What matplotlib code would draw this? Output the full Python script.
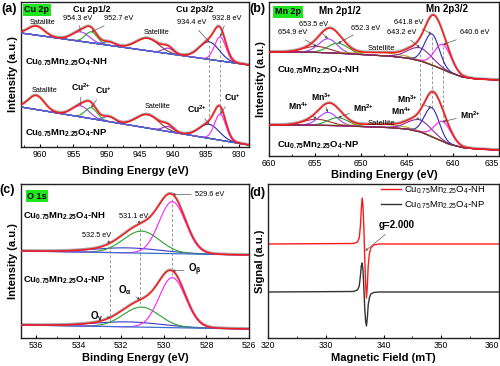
import numpy as np
import matplotlib
matplotlib.use('Agg')
import matplotlib.pyplot as plt

plt.rcParams['font.family'] = ['Liberation Sans', 'DejaVu Sans']
plt.rcParams['mathtext.default'] = 'regular'

W, H = 500, 366

# ---------------- (a) Cu 2p data ----------------
cu_xlim = (962.9, 928.5)
cu_ticks = [960, 955, 950, 945, 940, 935, 930]
cu_bg_nh = [114, 82]          # linear background at the two x-limits
cu_bg_np = [40, 2]
cu_centers = [960.6, 953.9, 952.3, 949.6, 943.8, 940.7, 934.5, 932.85]
cu_sigmas = [1.2, 1.3, 0.9, 0.9, 1.7, 0.8, 1.5, 0.85]
cu_heights_nh = [9, 9.5, 11, 3.5, 12.5, 5.5, 17.5, 24]
cu_heights_np = [14, 11, 11, 5, 13.5, 5, 14, 26]

# ---------------- (b) Mn 2p data ----------------
mn_xlim = (660, 635)
mn_ticks = [660, 655, 650, 645, 640, 635]
mn_bg_x = [660, 656, 653, 650, 647, 645, 643.5, 642, 640.5, 639, 637.5, 635]
mn_bg_nh = [104, 104, 103, 101.5, 100, 98, 95, 90, 84, 79, 77, 76]
mn_bg_np = [31, 31, 30.5, 29.5, 28.5, 27, 24, 18, 12, 8.5, 7, 6]
mn_centers = [654.8, 653.6, 652.5, 647.5, 643.6, 642.3, 641.1]
mn_sigmas = [1.4, 1.0, 1.1, 2.5, 1.3, 0.8, 0.9]
mn_heights_nh = [6, 14, 10, 3, 13, 31, 25]
mn_heights_np = [6, 13, 8, 3, 12, 29, 20]

# ---------------- (c) O 1s data ----------------
o_xlim = (536.7, 526)
o_ticks = [536, 534, 532, 530, 528, 526]
o_bg_nh = [87, 83]
o_bg_np = [13, 9]
o_centers = [531.7, 531.05, 529.6]
o_sigmas = [1.6, 0.85, 0.62]
o_heights_nh = [5, 22, 52]
o_heights_np = [5, 20, 50]
o_marks = [532.5, 531.1, 529.6]

# ---------------- (d) EPR data ----------------
epr_ticks = [320, 330, 340, 350, 360]
epr_field = [320, 334.8, 335.5, 335.8, 336.0, 336.15, 336.3, 336.45, 336.6, 336.75,
             336.9, 337.05, 337.2, 337.35, 337.55, 337.8, 338.3, 339.2, 360]
epr_nh = [94, 94.5, 96, 100, 112, 128, 140, 132, 110, 80, 55, 40, 52, 72, 84, 90, 93, 94, 94]
epr_np = [46, 46.5, 48, 52, 62, 72, 75, 68, 50, 30, 17, 12, 20, 33, 40, 44, 45.5, 46, 46]

NH = r'Cu$_{0.75}$Mn$_{2.25}$O$_{4}$-NH'
NP = r'Cu$_{0.75}$Mn$_{2.25}$O$_{4}$-NP'

RED = '#ff1a1a'
GREY = '#a8a8a8'
BLUE_BG = '#3b6fd0'


def P(px, py):
    return (px / W, 1 - py / H)


fig = plt.figure(figsize=(5, 3.66), dpi=100)


def add_ax(l, t, r, b):
    return fig.add_axes([l / W, 1 - b / H, (r - l) / W, (b - t) / H])


def style(ax, xlim, ylim, ticks, minor, xlabel, ylabel, last_right=False, xpad=1.5):
    ax.set_xlim(*xlim)
    ax.set_ylim(*ylim)
    ax.set_xticks(ticks)
    ax.set_xticks(minor, minor=True)
    ax.set_yticks([])
    ax.tick_params(axis='x', which='major', direction='in', length=2.5, width=0.8,
                   labelsize=6.2, pad=2)
    ax.tick_params(axis='x', which='minor', direction='in', length=1.5, width=0.6)
    for s in ax.spines.values():
        s.set_linewidth(1.0)
        s.set_color('#222222')
    ax.set_xlabel(xlabel, fontsize=8, fontweight='bold', labelpad=xpad)
    ax.set_ylabel(ylabel, fontsize=8, fontweight='bold', labelpad=2)
    if last_right:
        ax.get_xticklabels()[-1].set_horizontalalignment('right')


def gauss(x, c, h, s):
    return h * np.exp(-(x - c) ** 2 / (2 * s ** 2))


def arrow(ax, text, xy, pos, fs=5.3, bold=False):
    ax.annotate(text, xy=xy, xytext=P(*pos), textcoords='figure fraction',
                ha='center', va='center', fontsize=fs,
                fontweight='bold' if bold else 'normal',
                arrowprops=dict(arrowstyle='-|>', color='#555555', lw=0.5,
                                mutation_scale=3.5, shrinkA=1, shrinkB=0))


def ftext(text, pos, fs=5.3, bold=False, ha='center', **kw):
    fig.text(*P(*pos), text, ha=ha, va='center', fontsize=fs,
             fontweight='bold' if bold else 'normal', **kw)


def green_box(text, pos):
    fig.text(*P(*pos), text, ha='center', va='center', fontsize=6.5, fontweight='bold',
             bbox=dict(boxstyle='square,pad=0.18', fc='#1ee61e', ec='none'))


# =============== (a) ===============
axa = add_ax(21, 2, 249, 147)
xa = np.linspace(cu_xlim[0], cu_xlim[1], 800)
cu_colors = ['#c49a1c', '#a040ff', '#2ca02c', '#5a7ab8', '#7a3a3a', '#a030c0', '#2a2aa0', '#ff20ff']
peaks_a = {}
for tag, bgv, hs in [('nh', cu_bg_nh, cu_heights_nh), ('np', cu_bg_np, cu_heights_np)]:
    bg = np.interp(xa, [cu_xlim[1], cu_xlim[0]], [bgv[1], bgv[0]])
    comps = [gauss(xa, c, h, s) for c, h, s in zip(cu_centers, hs, cu_sigmas)]
    env = bg + np.sum(comps, axis=0)
    axa.plot(xa, env + 0.8, color=GREY, lw=1.5, zorder=1)
    for comp, col in zip(comps, cu_colors):
        axa.plot(xa, bg + comp, color=col, lw=0.8, zorder=2)
    axa.plot(xa, bg, color=BLUE_BG, lw=0.9, zorder=3)
    axa.plot(xa, env, color=RED, lw=1.1, zorder=4)
    peaks_a[tag] = [(c, np.interp(c, [cu_xlim[1], cu_xlim[0]], [bgv[1], bgv[0]]) + h)
                    for c, h in zip(cu_centers, hs)]
for i in (6, 7):
    axa.plot([cu_centers[i]] * 2, [peaks_a['np'][i][1] + 3, peaks_a['nh'][i][1] - 3],
             ls=(0, (3, 2)), color='#999999', lw=0.7, zorder=0)
style(axa, cu_xlim, (0, 145), cu_ticks, np.arange(962.5, 928, -2.5),
      'Binding Energy (eV)', 'Intensity (a.u.)', xpad=5)

arrow(axa, '954.3 eV', peaks_a['nh'][1], (78, 18))
arrow(axa, '952.7 eV', peaks_a['nh'][2], (119, 19))
arrow(axa, '934.4 eV', peaks_a['nh'][6], (192, 23))
arrow(axa, '932.8 eV', peaks_a['nh'][7], (227, 18))
arrow(axa, r'Cu$^{2{+}}$', peaks_a['np'][1], (81, 87), fs=6.2, bold=True)
arrow(axa, r'Cu$^{{+}}$', peaks_a['np'][2], (103, 90), fs=6.2, bold=True)
arrow(axa, r'Cu$^{2{+}}$', peaks_a['np'][6], (197, 109), fs=6.2, bold=True)
arrow(axa, r'Cu$^{{+}}$', peaks_a['np'][7], (232, 97), fs=6.2, bold=True)
ftext('Satallite', (43, 23))
ftext('Satellite', (157, 33))
ftext('Satallite', (45, 90))
ftext('Satellite', (158, 107))
ftext('Cu 2p1/2', (92, 9), fs=6.5, bold=True)
ftext('Cu 2p3/2', (195, 9), fs=6.5, bold=True)
ftext(NH, (25, 62), fs=6.8, bold=True, ha='left')
ftext(NP, (25, 133), fs=6.8, bold=True, ha='left')
green_box('Cu 2p', (37, 10))
ftext('(a)', (9, 9), fs=9, bold=True)

# =============== (b) ===============
axb = add_ax(269, 2, 499, 156)
xb = np.linspace(mn_xlim[0], mn_xlim[1], 800)
mn_colors = ['#a83232', '#a040ff', '#2ca02c', '#b0a820', '#8a2aa0', '#2a2ab8', '#ff20ff']
peaks_b = {}
for tag, bgv, hs in [('nh', mn_bg_nh, mn_heights_nh), ('np', mn_bg_np, mn_heights_np)]:
    bg = np.interp(xb, mn_bg_x[::-1], bgv[::-1])
    comps = [gauss(xb, c, h, s) for c, h, s in zip(mn_centers, hs, mn_sigmas)]
    env = bg + np.sum(comps, axis=0)
    axb.plot(xb, env + 0.8, color=GREY, lw=1.5, zorder=1)
    for comp, col in zip(comps, mn_colors):
        axb.plot(xb, bg + comp, color=col, lw=0.8, zorder=2)
    axb.plot(xb, bg, color='#7a3030', lw=0.9, zorder=3)
    axb.plot(xb, env, color=RED, lw=1.1, zorder=4)
    peaks_b[tag] = [(c, np.interp(c, mn_bg_x[::-1], bgv[::-1]) + h)
                    for c, h in zip(mn_centers, hs)]
for i in (4, 5, 6):
    axb.plot([mn_centers[i]] * 2, [peaks_b['np'][i][1], peaks_b['nh'][i][1] - 2],
             ls=(0, (3, 2)), color='#999999', lw=0.7, zorder=0)
style(axb, mn_xlim, (0, 154), mn_ticks, np.arange(657.5, 635, -2.5),
      'Binding Energy (eV)', 'Intensity (a.u.)', last_right=True)

arrow(axb, '653.5 eV', peaks_b['nh'][1], (314, 25))
arrow(axb, '654.9 eV', peaks_b['nh'][0], (293, 33))
arrow(axb, '652.3 eV', peaks_b['nh'][2], (366, 28))
arrow(axb, '641.8 eV', peaks_b['nh'][5], (409, 22))
arrow(axb, '643.2 eV', peaks_b['nh'][4], (402, 33))
arrow(axb, '640.6 eV', peaks_b['nh'][6], (475, 33))
arrow(axb, r'Mn$^{4{+}}$', peaks_b['np'][0], (299, 106), fs=6.2, bold=True)
arrow(axb, r'Mn$^{3{+}}$', peaks_b['np'][1], (322, 97), fs=6.2, bold=True)
arrow(axb, r'Mn$^{2{+}}$', peaks_b['np'][2], (364, 108), fs=6.2, bold=True)
arrow(axb, r'Mn$^{3{+}}$', peaks_b['np'][5], (408, 99), fs=6.2, bold=True)
arrow(axb, r'Mn$^{4{+}}$', peaks_b['np'][4], (402, 111), fs=6.2, bold=True)
arrow(axb, r'Mn$^{2{+}}$', peaks_b['np'][6], (471, 115), fs=6.2, bold=True)
ftext('Satellite', (381, 49), fs=5.5)
ftext('Satellite', (381, 123), fs=5.5)
ftext('Mn 2p1/2', (340, 11), fs=7, bold=True)
ftext('Mn 2p3/2', (447, 9), fs=7, bold=True)
ftext(NH, (277, 70), fs=6.8, bold=True, ha='left')
ftext(NP, (277, 145), fs=6.8, bold=True, ha='left')
green_box('Mn 2p', (288, 12))
ftext('(b)', (257, 9), fs=9, bold=True)

# =============== (c) ===============
axc = add_ax(21, 184, 249, 338)
xc = np.linspace(o_xlim[0], o_xlim[1], 800)
o_colors = ['#3a3ac8', '#2ca02c', '#ff20ff']
env_c = {}
for tag, bgv, hs in [('nh', o_bg_nh, o_heights_nh), ('np', o_bg_np, o_heights_np)]:
    bg = np.interp(xc, [o_xlim[1], o_xlim[0]], [bgv[1], bgv[0]])
    comps = [gauss(xc, c, h, s) for c, h, s in zip(o_centers, hs, o_sigmas)]
    env = bg + np.sum(comps, axis=0)
    axc.plot(xc, env + 0.8, color=GREY, lw=1.5, zorder=1)
    for comp, col in zip(comps, o_colors):
        axc.plot(xc, bg + comp, color=col, lw=0.8, zorder=2)
    axc.plot(xc, bg, color=BLUE_BG, lw=0.9, zorder=3)
    axc.plot(xc, env, color=RED, lw=1.1, zorder=4)
    env_c[tag] = [(m, np.interp(m, xc[::-1], env[::-1])) for m in o_marks]
for i in range(3):
    axc.plot([o_marks[i]] * 2, [env_c['np'][i][1] - 4, env_c['nh'][i][1] - 4],
             ls=(0, (3, 2)), color='#999999', lw=0.7, zorder=0)
style(axc, o_xlim, (0, 154), o_ticks, np.arange(535, 526, -2),
      'Binding Energy (eV)', 'Intensity (a.u.)', xpad=2.5)

arrow(axc, '532.5 eV', env_c['nh'][0], (97, 235))
arrow(axc, '531.1 eV', env_c['nh'][1], (134, 216))
arrow(axc, '529.6 eV', env_c['nh'][2], (210, 195))
arrow(axc, r'O$_{\gamma}$', env_c['np'][0], (97, 318), fs=7, bold=True)
arrow(axc, r'O$_{\alpha}$', env_c['np'][1], (125, 290), fs=7, bold=True)
arrow(axc, r'O$_{\beta}$', env_c['np'][2], (195, 270), fs=7, bold=True)
ftext(NH, (23, 216), fs=6.8, bold=True, ha='left')
ftext(NP, (23, 280), fs=6.8, bold=True, ha='left')
green_box('O 1s', (37, 196))
ftext('(c)', (7, 190), fs=9, bold=True)

# =============== (d) ===============
axd = add_ax(268, 184, 499, 338)
axd.plot(epr_field, epr_nh, color=RED, lw=1.0, label=NH)
axd.plot(epr_field, epr_np, color='#333333', lw=1.0, label=NP)
style(axd, (320, 360), (0, 154), epr_ticks, np.arange(325, 360, 10),
      'Magnetic Field (mT)', 'Signal (a.u.)', last_right=True, xpad=2)
axd.legend(loc='upper left', bbox_to_anchor=P(381, 184), bbox_transform=fig.transFigure,
           frameon=False, fontsize=6.8, handlelength=2.1, handletextpad=0.35,
           labelspacing=0.4, borderpad=0, borderaxespad=0)
axd.annotate('g=2.000', xy=(336.8, 87), xytext=P(397, 225), textcoords='figure fraction',
             ha='center', va='center', fontsize=7, fontweight='bold',
             arrowprops=dict(arrowstyle='-|>', color='#777777', lw=0.6,
                             mutation_scale=3.5, shrinkA=2, shrinkB=0))
ftext('(d)', (257, 193), fs=9, bold=True)

fig.savefig('out.png', dpi=100)
